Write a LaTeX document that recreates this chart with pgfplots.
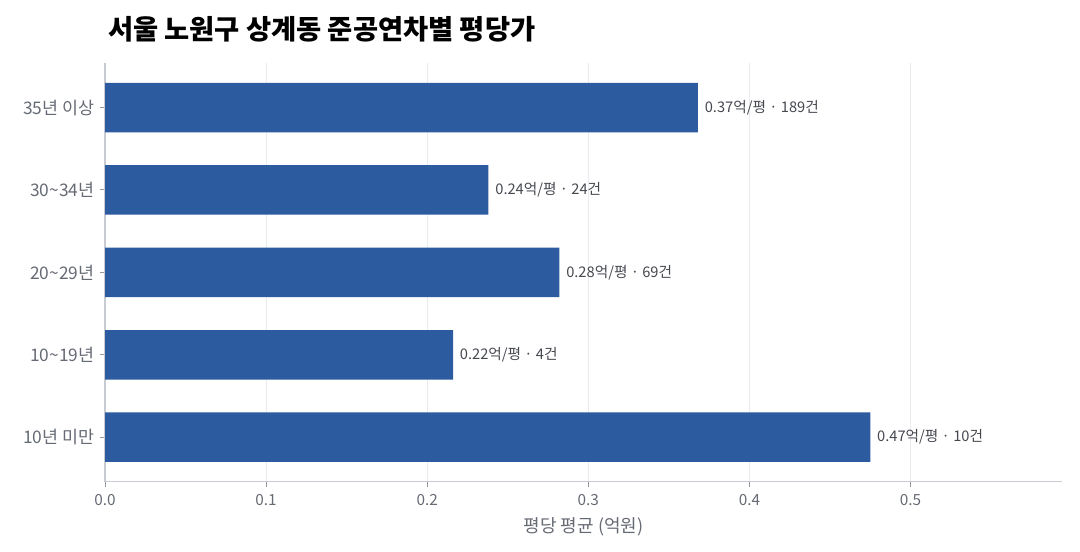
\documentclass[border=0pt]{standalone}
\usepackage{fontspec}
\setmainfont{Noto Sans CJK KR}
\usepackage{pgfplots}
\pgfplotsset{compat=1.18}

\definecolor{barblue}{RGB}{44,91,160}
\definecolor{ticktxt}{RGB}{102,106,116}
\definecolor{lbltxt}{RGB}{70,72,80}
\definecolor{axline}{RGB}{200,203,210}
\definecolor{gridc}{RGB}{234,235,238}

\begin{document}
\begin{tikzpicture}
\useasboundingbox (0,0) rectangle (810pt,414pt);

% title
\node[anchor=base west, font=\fontsize{20.5}{22}\selectfont\bfseries, text=black]
  at (77.5pt,384pt) {서울 노원구 상계동 준공연차별 평당가};

\begin{axis}[
  at={(78.75pt,52.7pt)}, anchor=south west,
  scale only axis, width=717.75pt, height=314pt,
  xbar, bar width=37.1pt,
  xmin=0, xmax=0.594, ymin=0.46, ymax=5.54,
  axis x line*=bottom, axis y line*=left,
  axis line style={draw=axline, line width=0.8pt, -},
  xtick={0,0.1,0.2,0.3,0.4,0.5},
  xticklabels={0.0,0.1,0.2,0.3,0.4,0.5},
  ytick={1,2,3,4,5},
  yticklabels={10년 미만,10\textasciitilde19년,20\textasciitilde29년,30\textasciitilde34년,35년 이상},
  xmajorgrids, major grid style={draw=gridc, line width=0.75pt},
  tick align=outside, major tick length=4pt,
  tick style={draw=ticktxt!70, line width=0.75pt},
  xticklabel style={font=\fontsize{11.5}{13}\selectfont, text=ticktxt, yshift=-2pt},
  yticklabel style={font=\fontsize{13}{15}\selectfont, text=ticktxt, xshift=-0.5pt},
  /pgf/number format/assume math mode=true,
  xlabel={평당 평균 (억원)},
  xlabel style={font=\fontsize{13.5}{15}\selectfont, text=ticktxt, yshift=-2pt},
  clip=false,
]
\addplot[fill=barblue, draw=none,
  nodes near coords, point meta=explicit symbolic,
  nodes near coords style={anchor=west, inner sep=0pt, xshift=5pt,
    font=\fontsize{11}{13}\selectfont, text=lbltxt}]
  coordinates {
  (0.475,1) [0.47억/평 · 10건]
  (0.216,2) [0.22억/평 · 4건]
  (0.282,3) [0.28억/평 · 69건]
  (0.238,4) [0.24억/평 · 24건]
  (0.368,5) [0.37억/평 · 189건]
};
\end{axis}
\end{tikzpicture}
\end{document}
